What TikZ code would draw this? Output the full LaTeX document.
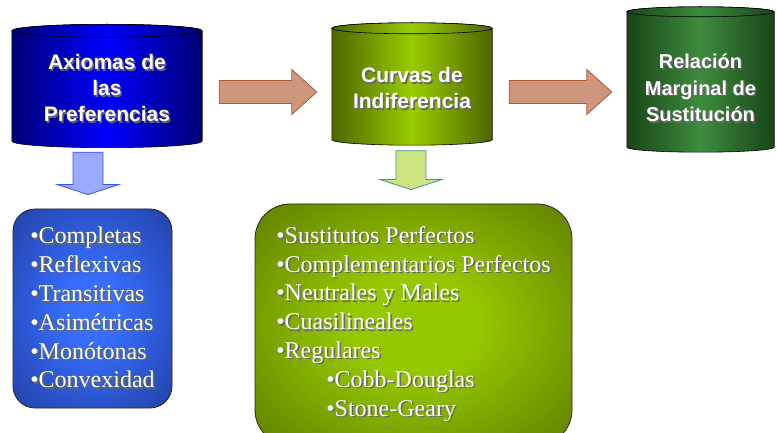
\documentclass[tikz,border=0pt]{standalone}
\usepackage{fontspec}
\setmainfont{Liberation Serif}
\setsansfont{Liberation Sans}
\usetikzlibrary{calc,positioning,backgrounds}

\definecolor{azulosc}{RGB}{0,0,115}
\definecolor{azulcla}{RGB}{0,0,255}
\definecolor{olivaosc}{RGB}{78,102,0}
\definecolor{olivacla}{RGB}{153,204,0}
\definecolor{verdeosc}{RGB}{24,68,24}
\definecolor{verdecla}{RGB}{62,140,62}
\definecolor{cajaazulin}{RGB}{55,110,255}
\definecolor{cajaazulout}{RGB}{25,45,125}
\definecolor{cajaverdein}{RGB}{150,200,0}
\definecolor{cajaverdeout}{RGB}{66,86,0}
\definecolor{salmon}{RGB}{205,150,125}
\definecolor{salmonborde}{RGB}{178,86,46}

\pgfdeclareradialshading{sombreoazul}{\pgfpoint{0bp}{0bp}}{%
    color(0bp)=(cajaazulin); color(8bp)=(cajaazulin);
    color(48bp)=(cajaazulout); color(72bp)=(cajaazulout)}
\pgfdeclareradialshading{sombreoverde}{\pgfpoint{0bp}{0bp}}{%
    color(0bp)=(cajaverdein); color(10bp)=(cajaverdein);
    color(50bp)=(cajaverdeout); color(72bp)=(cajaverdeout)}

\tikzset{
    cil/.style={inner sep=0pt, align=center, text=white,
        font=\sffamily\bfseries\fontsize{21}{26}\selectfont},
    cilindro/.style={draw=black, line width=.6pt},
    lista/.style={align=left, text=white, draw=black!85, line width=.8pt,
        inner sep=0pt, font=\fontsize{24}{28.8}\selectfont},
    flechah/.style={fill=salmon, draw=salmonborde, line width=.8pt},
    flechaazul/.style={fill={rgb,255:red,153;green,170;blue,255}, draw={rgb,255:red,60;green,80;blue,255}, line width=.8pt},
    flechaverde/.style={fill={rgb,255:red,206;green,228;blue,130}, draw={rgb,255:red,60;green,150;blue,150}, line width=.8pt}
}

% white text with a dark shadow
\newcommand{\sombra}[1]{\leavevmode\rlap{\kern1.5pt\raisebox{-1.5pt}{\color{black!60}#1}}#1}

% cylinder behind a node: node, extra top, y radius, edge colour, middle colour
\newcommand{\cilindro}[5]{%
    \path[cilindro, left color=#4, right color=#4, middle color=#5]
        let \p1=(#1.north west), \p2=(#1.south east), \n1={(\x2-\x1)/2} in
        (\x1,\y1+#2) -- (\x1,\y2) arc[start angle=180, end angle=360, x radius=\n1, y radius=#3]
        -- (\x2,\y1+#2) arc[start angle=0, end angle=180, x radius=\n1, y radius=#3] -- cycle;
    \path[cilindro, left color=#4, right color=#4, middle color=#5]
        let \p1=(#1.north west), \p2=(#1.south east), \n1={(\x2-\x1)/2} in
        ({(\x1+\x2)/2},\y1+#2) ellipse[x radius=\n1, y radius=#3];
}

% block arrow from one cylinder to the next
\newcommand{\flechaH}[2]{%
    \draw[flechah] let \p1=(#1.east), \p2=(#2.west) in
        (\x1+17pt,\y1+8.5pt) -- (\x2-40pt,\y1+8.5pt) -- (\x2-40pt,\y1+19.5pt)
        -- (\x2-15pt,\y1-3pt) -- (\x2-40pt,\y1-25.5pt) -- (\x2-40pt,\y1-14.5pt)
        -- (\x1+17pt,\y1-14.5pt) -- cycle;
}

% block arrow from a cylinder down to its list: from, to, x shift, style
\newcommand{\flechaV}[4]{%
    \draw[#4] let \p1=(#1.south), \p3=($(#2.north)+(#3,0)$) in
        (\x3-15pt,\y1-11pt) -- (\x3+15pt,\y1-11pt) -- (\x3+15pt,\y3+24pt)
        -- (\x3+30.5pt,\y3+24pt) -- (\x3,\y3+14pt) -- (\x3-30.5pt,\y3+24pt)
        -- (\x3-15pt,\y3+24pt) -- cycle;
}

\begin{document}
\begin{tikzpicture}[x=1pt,y=-1pt]

    \useasboundingbox (0,0) rectangle (777,433);

    % Cylinders.
    \node[cil, minimum width=190, minimum height=104] (axiomas) at (107,89)
        {\sombra{Axiomas de}\\\sombra{las}\\\sombra{Preferencias}};
    \node[cil, minimum width=160, minimum height=101] (curvas) at (412,89)
        {\sombra{Curvas de}\\\sombra{Indiferencia}};
    \node[cil, minimum width=147, minimum height=116,
        font=\sffamily\bfseries\fontsize{20}{26.5}\selectfont] (rms) at (700.5,89)
        {\sombra{Relación}\\\sombra{Marginal de}\\\sombra{Sustitución}};

    \begin{scope}[on background layer]
        \cilindro{axiomas}{6pt}{6.5pt}{azulosc}{azulcla}
        \cilindro{curvas}{10pt}{5.5pt}{olivaosc}{olivacla}
        \cilindro{rms}{19pt}{5pt}{verdeosc}{verdecla}
    \end{scope}

    % Lists.
    \node[lista, shading=sombreoazul,
        minimum width=159, minimum height=199, rounded corners=22] (propiedades) at (92.5,308.5)
        {\sombra{•Completas}\\
         \sombra{•Reflexivas}\\
         \sombra{•Transitivas}\\
         \sombra{•Asimétricas}\\
         \sombra{•Monótonas}\\
         \sombra{•Convexidad}};

    \node[lista, shading=sombreoverde,
        minimum width=317, minimum height=241, rounded corners=35] (tipos) at (413.5,324.5)
        {\sombra{•Sustitutos Perfectos}\\
         \sombra{•Complementarios Perfectos}\\
         \sombra{•Neutrales y Males}\\
         \sombra{•Cuasilineales}\\
         \sombra{•Regulares}\\
         \hspace*{50pt}\sombra{•Cobb-Douglas}\\
         \hspace*{50pt}\sombra{•Stone-Geary}};

    % Arrows.
    \flechaH{axiomas}{curvas}
    \flechaH{curvas}{rms}
    \flechaV{axiomas}{propiedades}{-4.5}{flechaazul}
    \flechaV{curvas}{tipos}{-2.5}{flechaverde}

\end{tikzpicture}
\end{document}
